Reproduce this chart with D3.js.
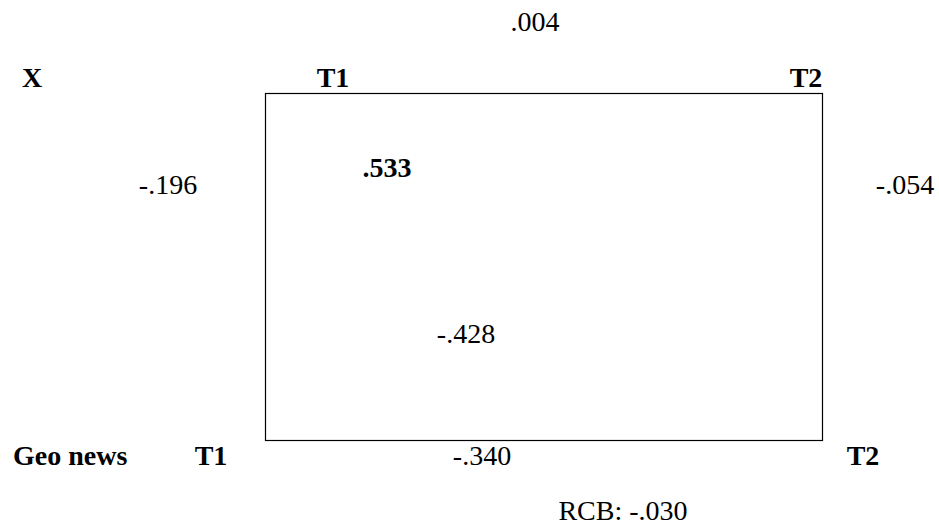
<!DOCTYPE html>
<head>
  <meta charset="UTF-8" />
  <style>
    body { margin: 0; background: #fff; }
  </style>
</head>
<body>
  <svg width="939" height="525"></svg>
</body>

<script src="https://cdn.jsdelivr.net/npm/d3@7"></script>
<script>
  // data
  const variables = ["X", "Geo news"];
  const waves = ["T1", "T2"];
  const stabilities = [".004", "-.340"]; // X T1->T2, Geo news T1->T2
  const synchronous = ["-.196", "-.054"]; // at T1, at T2
  const crossLagged = [".533", "-.428"]; // X1->Geo2 (bold = significant), Geo1->X2
  const crossBold = [true, false];
  const rcb = "RCB: -.030";

  const svg = d3.select("svg");

  // wave positions and variable rows
  const x = d3.scalePoint().domain(waves).range([265, 822]);
  const y = d3.scalePoint().domain(variables).range([93, 440]);

  // the box joining the four measurements
  svg.append("rect")
    .attr("x", x("T1") + 0.5)
    .attr("y", y("X") + 0.5)
    .attr("width", x("T2") - x("T1"))
    .attr("height", y("Geo news") - y("X"))
    .attr("fill", "none")
    .attr("stroke", "#000")
    .attr("stroke-width", 1.2);

  // one text in Times-like serif
  function label(txt, px, py, anchor, bold) {
    svg.append("text")
      .attr("x", px)
      .attr("y", py)
      .attr("text-anchor", anchor)
      .attr("font-size", 28)
      .style("font-family", '"Liberation Serif"')
      .style("font-weight", bold ? "bold" : "normal")
      .text(txt);
  }

  const topBase = y("X") - 6;
  const botBase = y("Geo news") + 25;

  // variable names
  variables.forEach((d, i) =>
    label(d, i === 0 ? 22 : 13, i === 0 ? topBase : botBase, "start", true));

  // wave labels, top and bottom rows
  waves.forEach(d => {
    label(d, d === "T1" ? x(d) + 68 : x(d) - 16, topBase, "middle", true);
    label(d, d === "T1" ? x(d) - 54 : x(d) + 41, botBase, "middle", true);
  });

  // stability paths
  stabilities.forEach((d, i) =>
    label(d, i === 0 ? 535 : 482, i === 0 ? y("X") - 62 : botBase, "middle", false));

  // synchronous correlations
  synchronous.forEach((d, i) =>
    label(d, i === 0 ? x("T1") - 97 : x("T2") + 83, y("X") + 101, "middle", false));

  // cross-lagged paths
  crossLagged.forEach((d, i) =>
    label(d, i === 0 ? 387 : 466, i === 0 ? y("X") + 84 : y("X") + 250, "middle", crossBold[i]));

  label(rcb, 623, botBase + 55, "middle", false);
</script>
